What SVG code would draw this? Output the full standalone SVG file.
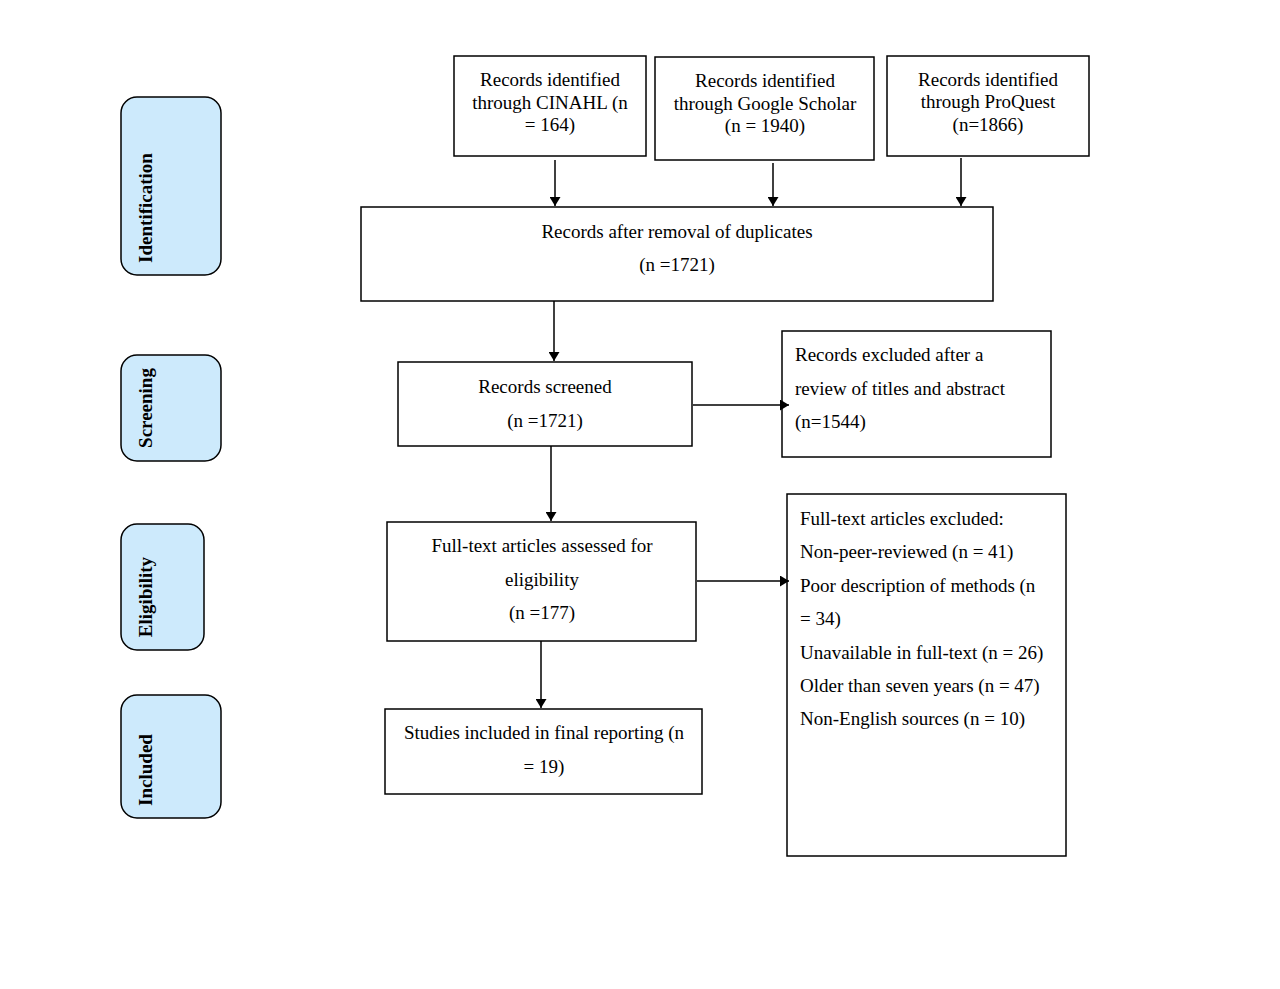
<svg xmlns="http://www.w3.org/2000/svg" width="1280" height="989" viewBox="0 0 1280 989">
<defs>
<marker id="ah" viewBox="0 0 10 10" refX="10" refY="5" markerWidth="9" markerHeight="11" markerUnits="userSpaceOnUse" orient="auto" preserveAspectRatio="none">
<path d="M0,0 L10,5 L0,10 z" fill="#000"/>
</marker>
<style>
.box{fill:#fff;stroke:#000;stroke-width:1.5}
.stage{fill:#cdeafc;stroke:#000;stroke-width:1.5}
.c{text-anchor:middle}
.s{font-weight:bold;text-anchor:middle}
.ln{stroke:#000;stroke-width:1.5;fill:none;marker-end:url(#ah)}
</style>
</defs>
<rect width="1280" height="989" fill="#fff"/>
<g font-family="Liberation Serif, Tinos, DejaVu Serif, serif" font-size="19" fill="#000">
<g id="stage-identification"><rect class="stage" x="121" y="97" width="100" height="178" rx="16"/><text class="s" transform="translate(152,208) rotate(-90)">Identification</text></g>
<g id="stage-screening"><rect class="stage" x="121" y="355" width="100" height="106" rx="16"/><text class="s" transform="translate(152,408) rotate(-90)">Screening</text></g>
<g id="stage-eligibility"><rect class="stage" x="121" y="524" width="83" height="126" rx="16"/><text class="s" transform="translate(152,597) rotate(-90)">Eligibility</text></g>
<g id="stage-included"><rect class="stage" x="121" y="695" width="100" height="123" rx="16"/><text class="s" transform="translate(152,770) rotate(-90)">Included</text></g>
<g id="cinahl"><rect class="box" x="454" y="56" width="192" height="100"/><text class="c" x="550" y="86">Records identified</text><text class="c" x="550" y="109">through CINAHL (n</text><text class="c" x="550" y="131">= 164)</text></g>
<g id="scholar"><rect class="box" x="655" y="57" width="219" height="103"/><text class="c" x="765" y="87">Records identified</text><text class="c" x="765" y="110">through Google Scholar</text><text class="c" x="765" y="132">(n = 1940)</text></g>
<g id="proquest"><rect class="box" x="887" y="56" width="202" height="100"/><text class="c" x="988" y="86">Records identified</text><text class="c" x="988" y="108">through ProQuest</text><text class="c" x="988" y="131">(n=1866)</text></g>
<g id="duplicates"><rect class="box" x="361" y="207" width="632" height="94"/><text class="c" x="677" y="238">Records after removal of duplicates</text><text class="c" x="677" y="271">(n =1721)</text></g>
<g id="screened"><rect class="box" x="398" y="362" width="294" height="84"/><text class="c" x="545" y="393">Records screened</text><text class="c" x="545" y="427">(n =1721)</text></g>
<g id="excluded1"><rect class="box" x="782" y="331" width="269" height="126"/><text x="795" y="361">Records excluded after a</text><text x="795" y="395">review of titles and abstract</text><text x="795" y="428">(n=1544)</text></g>
<g id="assessed"><rect class="box" x="387" y="522" width="309" height="119"/><text class="c" x="542" y="552">Full-text articles assessed for</text><text class="c" x="542" y="586">eligibility</text><text class="c" x="542" y="619">(n =177)</text></g>
<g id="excluded2"><rect class="box" x="787" y="494" width="279" height="362"/><text x="800" y="525">Full-text articles excluded:</text><text x="800" y="558">Non-peer-reviewed (n = 41)</text><text x="800" y="592">Poor description of methods (n</text><text x="800" y="625">= 34)</text><text x="800" y="659">Unavailable in full-text (n = 26)</text><text x="800" y="692">Older than seven years (n = 47)</text><text x="800" y="725">Non-English sources (n = 10)</text></g>
<g id="included"><rect class="box" x="385" y="709" width="317" height="85"/><text class="c" x="544" y="739">Studies included in final reporting (n</text><text class="c" x="544" y="773">= 19)</text></g>
</g>
<g id="connectors">
<line class="ln" x1="555" y1="160" x2="555" y2="206"/>
<line class="ln" x1="773" y1="163" x2="773" y2="206"/>
<line class="ln" x1="961" y1="158" x2="961" y2="206"/>
<line class="ln" x1="554" y1="301" x2="554" y2="361"/>
<line class="ln" x1="693" y1="405" x2="789" y2="405"/>
<line class="ln" x1="551" y1="446" x2="551" y2="521"/>
<line class="ln" x1="697" y1="581" x2="789" y2="581"/>
<line class="ln" x1="541" y1="641" x2="541" y2="708"/>
</g>
</svg>
